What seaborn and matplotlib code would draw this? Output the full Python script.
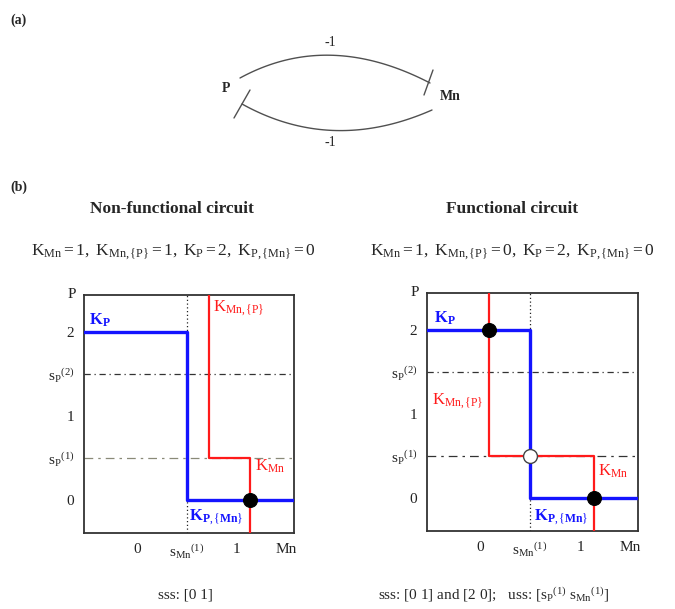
import numpy as np
import matplotlib
matplotlib.use("Agg")
import matplotlib.pyplot as plt
import seaborn as sns

sns.set_style("white")
plt.rcParams['font.family'] = ['Liberation Serif', 'DejaVu Serif']
plt.rcParams['mathtext.fontset'] = 'custom'
plt.rcParams['mathtext.rm'] = 'Liberation Serif'
plt.rcParams['mathtext.it'] = 'Liberation Serif:italic'
plt.rcParams['mathtext.bf'] = 'Liberation Serif:bold'

# ---------------- data ----------------
x_tick_pos = [0, 1, 2, 3]
x_tick_labels = ["0", r"$\mathrm{s}_{\mathrm{Mn}}{}^{(1)}$", "1", "Mn"]
y_tick_pos = [0, 1, 2, 3, 4]
y_tick_labels = ["0", r"$\mathrm{s}_{\mathrm{P}}{}^{(1)}$", "1", r"$\mathrm{s}_{\mathrm{P}}{}^{(2)}$", "2"]

# threshold positions (in the discretised scale)
s_mn = 1
s_p_levels = [1, 3]

# Non-functional circuit
nf_blue_x = [-2, 1, 1, 4]
nf_blue_y = [4, 4, 0, 0]
nf_red_x = [1.45, 1.45, 2.28, 2.28]
nf_red_y = [6, 1, 1, -2]
nf_stable_x = [2.28]
nf_stable_y = [0]

# Functional circuit
f_blue_x = [-2, 1, 1, 4]
f_blue_y = [4, 4, 0, 0]
f_red_x = [0.18, 0.18, 2.28, 2.28]
f_red_y = [6, 1, 1, -2]
f_stable_x = [0.18, 2.28]
f_stable_y = [4, 0]
f_unstable_x = [1]
f_unstable_y = [1]

XLIM = (-1.06, 3.16)
YLIM = (-0.79, 4.88)

BLUE = "#1414ff"
RED = "#ff1a1a"

W, H = 675, 609
fig = plt.figure(figsize=(W / 100, H / 100), dpi=100)

# ---------------- part (a): circuit diagram (pixel overlay) ----------------
ov = fig.add_axes([0, 0, 1, 1], zorder=0)
ov.set_xlim(0, W)
ov.set_ylim(H, 0)
ov.axis("off")

def qbez(p0, c, p2, n=60):
    t = np.linspace(0, 1, n)[:, None]
    p0, c, p2 = map(np.array, (p0, c, p2))
    return (1 - t) ** 2 * p0 + 2 * (1 - t) * t * c + t ** 2 * p2

top_arc = qbez((240, 78), (328, 30), (430, 83))
bot_arc = qbez((242, 104), (332, 154), (432, 110))
ov.plot(top_arc[:, 0], top_arc[:, 1], color="#505050", lw=1.0)
ov.plot(bot_arc[:, 0], bot_arc[:, 1], color="#505050", lw=1.0)
ov.plot([433, 424], [70, 95], color="#505050", lw=1.0)
ov.plot([250, 234], [90, 118], color="#505050", lw=1.0)
ov.text(226, 89, "P", fontsize=10, fontweight="bold", ha="center", va="center")
ov.text(450, 96, "Mn", fontsize=10, fontweight="bold", ha="center", va="center")
ov.text(330, 43, "-1", fontsize=10, ha="center", va="center")
ov.text(330, 142, "-1", fontsize=10, ha="center", va="center")
ov.text(10, 20, "(a)", fontsize=10, ha="left", va="center", fontweight="bold")
ov.text(10, 187, "(b)", fontsize=10, ha="left", va="center", fontweight="bold")

# titles and parameter lines
ov.text(172, 209, "Non-functional circuit", fontsize=12.5, fontweight="bold", ha="center", va="center")
ov.text(512, 209, "Functional circuit", fontsize=12.5, fontweight="bold", ha="center", va="center")
ov.text(173, 252, r"$\mathrm{K}_{\mathrm{Mn}}=1,\ \mathrm{K}_{\mathrm{Mn},\{\mathrm{P}\}}=1,\ \mathrm{K}_{\mathrm{P}}=2,\ \mathrm{K}_{\mathrm{P},\{\mathrm{Mn}\}}=0$",
        fontsize=12.5, ha="center", va="center")
ov.text(512, 252, r"$\mathrm{K}_{\mathrm{Mn}}=1,\ \mathrm{K}_{\mathrm{Mn},\{\mathrm{P}\}}=0,\ \mathrm{K}_{\mathrm{P}}=2,\ \mathrm{K}_{\mathrm{P},\{\mathrm{Mn}\}}=0$",
        fontsize=12.5, ha="center", va="center")
ov.text(185, 595, "sss: [0 1]", fontsize=11, ha="center", va="center")
ov.text(378, 595, r"sss: [0 1] and [2 0];   uss: [$\mathrm{s}_{\mathrm{P}}{}^{(1)}\ \mathrm{s}_{\mathrm{Mn}}{}^{(1)}$]",
        fontsize=11, ha="left", va="center")

# ---------------- part (b): panels ----------------
def panel(rect, blue_x, blue_y, red_x, red_y, st_x, st_y, un_x=None, un_y=None, sp1_color="#777766"):
    ax = fig.add_axes(rect, zorder=2)
    ax.set_xlim(*XLIM)
    ax.set_ylim(*YLIM)
    ax.axhline(s_p_levels[1], color="#333333", lw=0.9, ls=(0, (5, 3, 1, 3)), zorder=1)
    ax.axhline(s_p_levels[0], color=sp1_color, lw=0.9, ls=(0, (7, 4, 2, 4)), zorder=1)
    ax.axvline(s_mn, color="#222222", lw=0.9, ls=(0, (1, 2)), zorder=1)
    sns.lineplot(x=blue_x, y=blue_y, sort=False, estimator=None, color=BLUE, lw=2.4, ax=ax, zorder=3)
    sns.lineplot(x=red_x, y=red_y, sort=False, estimator=None, color=RED, lw=1.6, ax=ax, zorder=4)
    sns.scatterplot(x=st_x, y=st_y, color="black", s=100, edgecolor="black", ax=ax, zorder=6)
    if un_x is not None:
        sns.scatterplot(x=un_x, y=un_y, color="white", s=100, edgecolor="#444444", linewidth=1.0, ax=ax, zorder=6)
    ax.set_xticks(x_tick_pos)
    ax.set_xticklabels(x_tick_labels)
    ax.set_yticks(y_tick_pos)
    ax.set_yticklabels(y_tick_labels)
    ax.tick_params(length=0, labelsize=11, labelcolor="#222222", pad=7)
    ax.text(-0.04, 1.0, "P", transform=ax.transAxes, ha="right", va="center", fontsize=11, color="#222222")
    for sp in ax.spines.values():
        sp.set_color("#333333")
        sp.set_linewidth(1.3)
    ax.set_xlabel("")
    ax.set_ylabel("")
    return ax

ax1 = panel([84 / W, 1 - 533 / H, 210 / W, 238 / H], nf_blue_x, nf_blue_y, nf_red_x, nf_red_y,
            nf_stable_x, nf_stable_y, sp1_color="#8a8a78")
ax2 = panel([427 / W, 1 - 531 / H, 211 / W, 238 / H], f_blue_x, f_blue_y, f_red_x, f_red_y,
            f_stable_x, f_stable_y, f_unstable_x, f_unstable_y, sp1_color="#333333")

lab = dict(fontsize=12, va="center", ha="left")
ax1.text(-0.95, 4.27, r"$\mathbf{K}_{\mathbf{P}}$", color=BLUE, **lab)
ax1.text(1.53, 4.57, r"$\mathrm{K}_{\mathrm{Mn},\{\mathrm{P}\}}$", color=RED, **lab)
ax1.text(2.37, 0.8, r"$\mathrm{K}_{\mathrm{Mn}}$", color=RED, **lab)
ax1.text(1.06, -0.4, r"$\mathbf{K}_{\mathbf{P},\{\mathbf{Mn}\}}$", color=BLUE, **lab)

ax2.text(-0.92, 4.27, r"$\mathbf{K}_{\mathbf{P}}$", color=BLUE, **lab)
ax2.text(-0.95, 2.3, r"$\mathrm{K}_{\mathrm{Mn},\{\mathrm{P}\}}$", color=RED, **lab)
ax2.text(2.36, 0.64, r"$\mathrm{K}_{\mathrm{Mn}}$", color=RED, **lab)
ax2.text(1.08, -0.45, r"$\mathbf{K}_{\mathbf{P},\{\mathbf{Mn}\}}$", color=BLUE, **lab)

fig.savefig("out.png", dpi=100)
